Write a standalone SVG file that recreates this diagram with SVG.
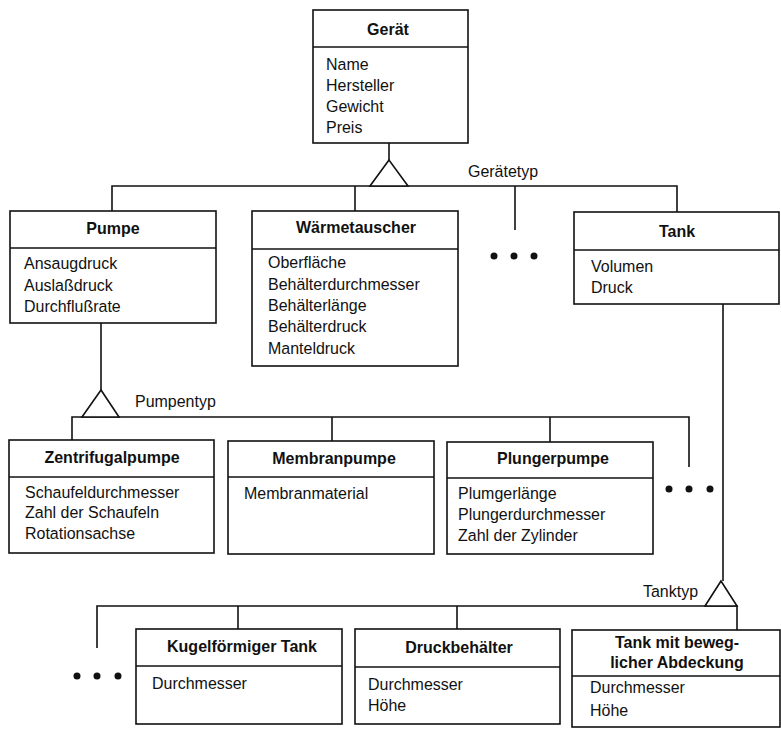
<svg xmlns="http://www.w3.org/2000/svg" width="781" height="729" viewBox="0 0 781 729">
  <style>
    .box { fill: #fff; stroke: #111; stroke-width: 1.6; }
    .div { stroke: #111; stroke-width: 1.6; }
    .ln { fill: none; stroke: #111; stroke-width: 1.6; }
    .tri { fill: #fff; stroke: #111; stroke-width: 1.6; stroke-linejoin: miter; }
    .title { font-family: "Liberation Sans", Arial, sans-serif; font-size: 16.5px; font-weight: bold; fill: #111; text-anchor: middle; }
    .attr { font-family: "Liberation Sans", Arial, sans-serif; font-size: 17px; fill: #111; }
    .lbl { font-family: "Liberation Sans", Arial, sans-serif; font-size: 17px; fill: #111; }
    .dot { fill: #111; }
  </style>
  <rect width="781" height="729" fill="#fff"/>

  <!-- connectors: generalisation links with discriminator triangles -->
  <g id="connectors">
    <!-- Gerätetyp -->
    <path class="ln" d="M389 143 V160"/>
    <path class="ln" d="M112 211 V186 H677 V212"/>
    <path class="ln" d="M355 186 V211"/>
    <path class="ln" d="M515 186 V230"/>
    <polygon class="tri" points="389,160 370,186 408,186"/>
    <text class="lbl" transform="translate(468 177) scale(.94 1)">Gerätetyp</text>
    <circle class="dot" cx="494" cy="256" r="3.5"/>
    <circle class="dot" cx="514" cy="256" r="3.5"/>
    <circle class="dot" cx="534" cy="256" r="3.5"/>

    <!-- Pumpentyp -->
    <path class="ln" d="M101 323 V390"/>
    <path class="ln" d="M72 440 V417 H689 V467"/>
    <path class="ln" d="M332 417 V441"/>
    <path class="ln" d="M550 417 V442"/>
    <polygon class="tri" points="101,390 82,417 119,417"/>
    <text class="lbl" transform="translate(135 407) scale(.94 1)">Pumpentyp</text>
    <circle class="dot" cx="669" cy="489" r="3.5"/>
    <circle class="dot" cx="689" cy="489" r="3.5"/>
    <circle class="dot" cx="710" cy="489" r="3.5"/>

    <!-- Tanktyp -->
    <path class="ln" d="M723 304 V581"/>
    <path class="ln" d="M97 648 V606 H737 V630"/>
    <path class="ln" d="M238 606 V629"/>
    <path class="ln" d="M457 606 V629"/>
    <polygon class="tri" points="721,581 705,606 737,606"/>
    <text class="lbl" transform="translate(643 597) scale(.94 1)">Tanktyp</text>
    <circle class="dot" cx="77" cy="676" r="3.5"/>
    <circle class="dot" cx="97" cy="676" r="3.5"/>
    <circle class="dot" cx="118" cy="676" r="3.5"/>
  </g>

  <g id="geraet">
    <rect class="box" x="313" y="10" width="155" height="133"/>
    <line class="div" x1="313" y1="47" x2="468" y2="47"/>
    <text class="title" transform="translate(388 35) scale(.97 1)">Gerät</text>
    <text class="attr" transform="translate(326 70) scale(.94 1)">Name</text>
    <text class="attr" transform="translate(326 91) scale(.94 1)">Hersteller</text>
    <text class="attr" transform="translate(326 112) scale(.94 1)">Gewicht</text>
    <text class="attr" transform="translate(326 133) scale(.94 1)">Preis</text>
  </g>

  <g id="pumpe">
    <rect class="box" x="10" y="211" width="206" height="112"/>
    <line class="div" x1="10" y1="248" x2="216" y2="248"/>
    <text class="title" transform="translate(113 234) scale(.97 1)">Pumpe</text>
    <text class="attr" transform="translate(24 269) scale(.94 1)">Ansaugdruck</text>
    <text class="attr" transform="translate(24 291) scale(.94 1)">Auslaßdruck</text>
    <text class="attr" transform="translate(24 312) scale(.94 1)">Durchflußrate</text>
  </g>

  <g id="waermetauscher">
    <rect class="box" x="252" y="211" width="206" height="155"/>
    <line class="div" x1="252" y1="249" x2="458" y2="249"/>
    <text class="title" transform="translate(356 233) scale(.97 1)">Wärmetauscher</text>
    <text class="attr" transform="translate(268 268) scale(.94 1)">Oberfläche</text>
    <text class="attr" transform="translate(268 290) scale(.94 1)">Behälterdurchmesser</text>
    <text class="attr" transform="translate(268 311) scale(.94 1)">Behälterlänge</text>
    <text class="attr" transform="translate(268 332) scale(.94 1)">Behälterdruck</text>
    <text class="attr" transform="translate(268 354) scale(.94 1)">Manteldruck</text>
  </g>

  <g id="tank">
    <rect class="box" x="574" y="212" width="205" height="92"/>
    <line class="div" x1="574" y1="250" x2="779" y2="250"/>
    <text class="title" transform="translate(677 237) scale(.97 1)">Tank</text>
    <text class="attr" transform="translate(591 272) scale(.94 1)">Volumen</text>
    <text class="attr" transform="translate(591 293) scale(.94 1)">Druck</text>
  </g>

  <g id="zentrifugalpumpe">
    <rect class="box" x="9" y="440" width="205" height="113"/>
    <line class="div" x1="9" y1="477" x2="214" y2="477"/>
    <text class="title" transform="translate(112 463) scale(.97 1)">Zentrifugalpumpe</text>
    <text class="attr" transform="translate(25 498) scale(.94 1)">Schaufeldurchmesser</text>
    <text class="attr" transform="translate(25 518) scale(.94 1)">Zahl der Schaufeln</text>
    <text class="attr" transform="translate(25 539) scale(.94 1)">Rotationsachse</text>
  </g>

  <g id="membranpumpe">
    <rect class="box" x="228" y="441" width="206" height="113"/>
    <line class="div" x1="228" y1="477" x2="434" y2="477"/>
    <text class="title" transform="translate(334 464) scale(.97 1)">Membranpumpe</text>
    <text class="attr" transform="translate(244 499) scale(.94 1)">Membranmaterial</text>
  </g>

  <g id="plungerpumpe">
    <rect class="box" x="447" y="442" width="206" height="112"/>
    <line class="div" x1="447" y1="478" x2="653" y2="478"/>
    <text class="title" transform="translate(553 464) scale(.97 1)">Plungerpumpe</text>
    <text class="attr" transform="translate(458 499) scale(.94 1)">Plumgerlänge</text>
    <text class="attr" transform="translate(458 520) scale(.94 1)">Plungerdurchmesser</text>
    <text class="attr" transform="translate(458 541) scale(.94 1)">Zahl der Zylinder</text>
  </g>

  <g id="kugeltank">
    <rect class="box" x="136" y="629" width="206" height="95"/>
    <line class="div" x1="136" y1="666" x2="342" y2="666"/>
    <text class="title" transform="translate(242 652) scale(.97 1)">Kugelförmiger Tank</text>
    <text class="attr" transform="translate(152 689) scale(.94 1)">Durchmesser</text>
  </g>

  <g id="druckbehaelter">
    <rect class="box" x="355" y="629" width="205" height="95"/>
    <line class="div" x1="355" y1="667" x2="560" y2="667"/>
    <text class="title" transform="translate(459 653) scale(.97 1)">Druckbehälter</text>
    <text class="attr" transform="translate(368 690) scale(.94 1)">Durchmesser</text>
    <text class="attr" transform="translate(368 711) scale(.94 1)">Höhe</text>
  </g>

  <g id="tank-abdeckung">
    <rect class="box" x="572" y="630" width="208" height="97"/>
    <line class="div" x1="572" y1="676" x2="780" y2="676"/>
    <text class="title" transform="translate(677 648) scale(.97 1)">Tank mit beweg-</text>
    <text class="title" transform="translate(677 668) scale(.97 1)">licher Abdeckung</text>
    <text class="attr" transform="translate(590 693) scale(.94 1)">Durchmesser</text>
    <text class="attr" transform="translate(590 716) scale(.94 1)">Höhe</text>
  </g>
</svg>
